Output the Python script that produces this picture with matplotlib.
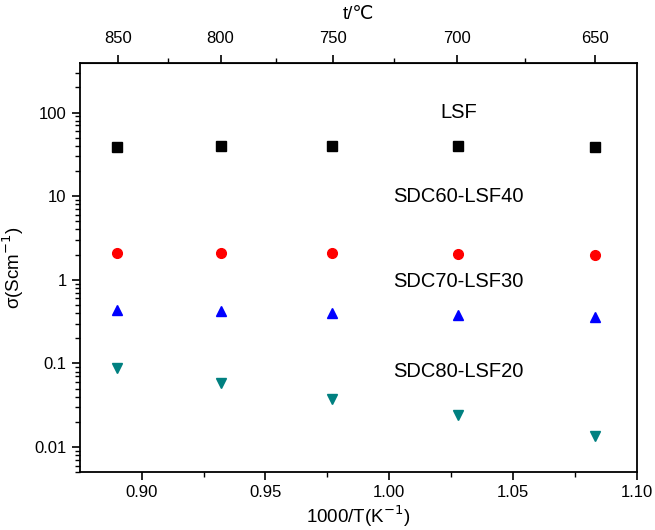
import matplotlib
matplotlib.use("Agg")
import matplotlib.pyplot as plt
from matplotlib.ticker import FixedLocator, LogLocator, NullFormatter

plt.rcParams["font.family"] = ["Liberation Sans", "DejaVu Sans"]

inv_t = [0.890, 0.932, 0.977, 1.028, 1.083]
lsf = [39, 39.5, 39.5, 39.5, 39]
sdc60 = [2.1, 2.08, 2.07, 2.03, 2.0]
sdc70 = [0.43, 0.42, 0.40, 0.38, 0.36]
sdc80 = [0.087, 0.058, 0.038, 0.024, 0.0135]
labels = ["LSF", "SDC60-LSF40", "SDC70-LSF30", "SDC80-LSF20"]
label_y = [100, 10, 0.95, 0.08]
top_ticks = [850, 800, 750, 700, 650]

fig = plt.figure(figsize=(6.55, 5.3), dpi=100)
ax = fig.add_axes([0.122, 0.109, 0.850, 0.772])

ax.plot(inv_t, lsf, "s", color="black", ms=6.5, ls="none")
ax.plot(inv_t, sdc60, "o", color="#ff0000", ms=7, ls="none")
ax.plot(inv_t, sdc70, "^", color="#0000ff", ms=7.5, ls="none")
ax.plot(inv_t, sdc80, "v", color="#008080", ms=7.5, ls="none")

for lab, yy in zip(labels, label_y):
    ax.text(1.028, yy, lab, ha="center", va="center", fontsize=14.5)

ax.set_yscale("log")
ax.set_xlim(0.875, 1.10)
ax.set_ylim(0.005, 390)
ax.set_yticks([0.01, 0.1, 1, 10, 100])
ax.set_yticklabels(["0.01", "0.1", "1", "10", "100"])
ax.yaxis.set_minor_locator(LogLocator(base=10, subs=range(2, 10)))
ax.yaxis.set_minor_formatter(NullFormatter())
ax.set_xticks([0.90, 0.95, 1.00, 1.05, 1.10])
ax.set_xticklabels(["0.90", "0.95", "1.00", "1.05", "1.10"])
ax.xaxis.set_minor_locator(FixedLocator([0.925, 0.975, 1.025, 1.075]))
ax.tick_params(which="major", direction="out", length=6, width=1.2, labelsize=12, right=False, top=False)
ax.tick_params(which="minor", direction="out", length=3.5, width=1, right=False, top=False)
for s in ax.spines.values():
    s.set_linewidth(1.3)

ax.set_xlabel("1000/T(K$^{-1}$)", fontsize=13.5, labelpad=2)
ax.set_ylabel("σ(Scm$^{-1}$)", fontsize=13.5, labelpad=6)

sec = ax.secondary_xaxis("top", functions=(lambda x: 1000 / x - 273.15, lambda t: 1000 / (t + 273.15)))
sec.set_xticks(top_ticks)
sec.set_xticklabels([str(t) for t in top_ticks])
sec.xaxis.set_minor_locator(FixedLocator([825, 775, 725, 675]))
sec.tick_params(which="major", direction="out", length=6, width=1.2, labelsize=12, pad=6)
sec.tick_params(which="minor", direction="out", length=3.5, width=1)
sec.set_xlabel("t/℃", fontsize=13.5, labelpad=9)

fig.savefig("out.png", dpi=100)
